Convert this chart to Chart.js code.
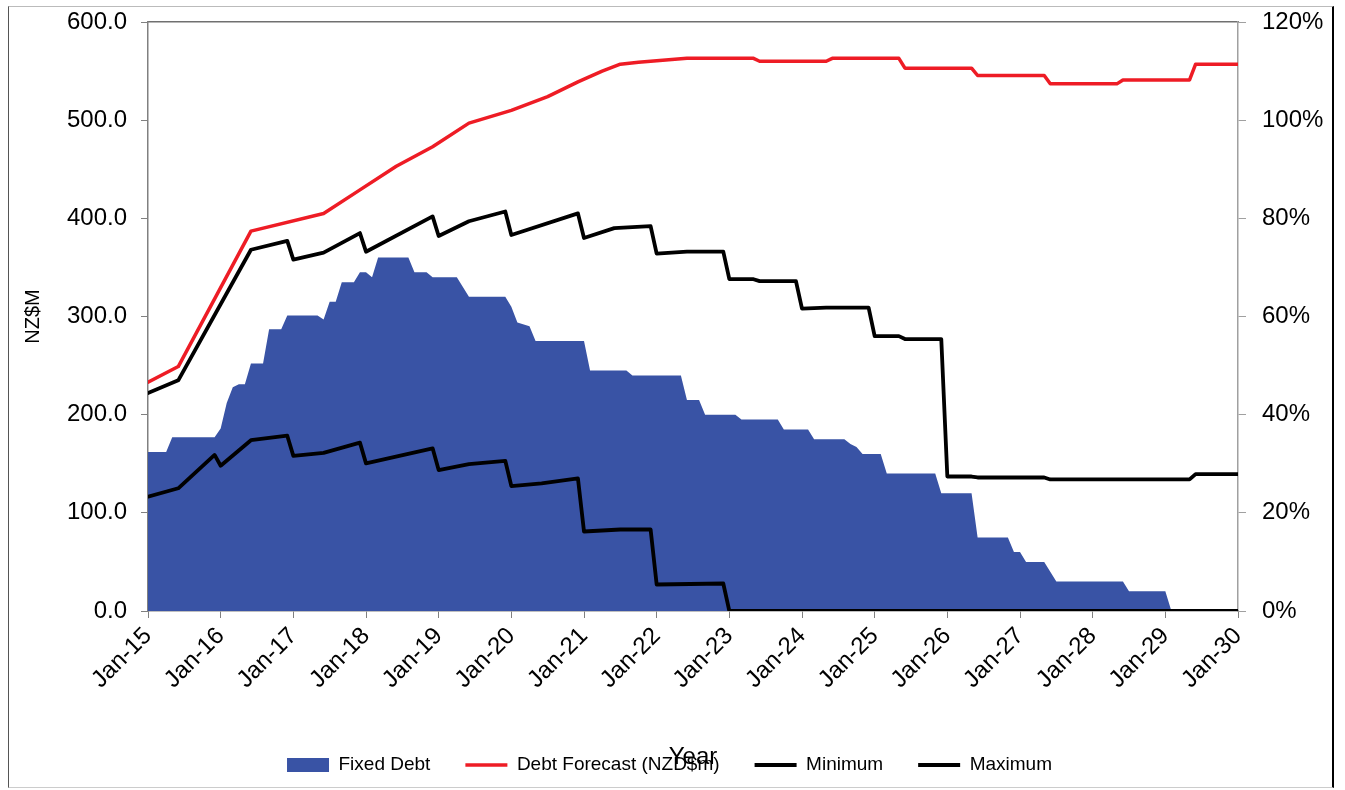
<!DOCTYPE html>
<html>
<head>
<meta charset="utf-8">
<script src="https://cdn.jsdelivr.net/npm/chart.js@4.4.0/dist/chart.umd.min.js"></script>
<style>
html,body{margin:0;padding:0;background:#fff;}
#wrap{position:relative;width:1345px;height:790px;}
#frame{position:absolute;left:8px;top:6px;width:1326px;height:782px;box-sizing:border-box;
border-left:1px solid #555;border-right:2px solid #000;border-top:1px solid #bbb;border-bottom:1px solid #ccc;pointer-events:none;}
</style>
</head>
<body>
<div id="wrap"><canvas id="c" width="1345" height="790"></canvas><div id="frame"></div></div>
<script>
// ---- data (x = months since Jan-15) ----
const xTickLabels = ['Jan-15','Jan-16','Jan-17','Jan-18','Jan-19','Jan-20','Jan-21','Jan-22','Jan-23','Jan-24','Jan-25','Jan-26','Jan-27','Jan-28','Jan-29','Jan-30'];
const seriesNames = ['Fixed Debt','Debt Forecast (NZD$m)','Minimum','Maximum'];

const fixedDebtMonths = [0,3,4,11,12,13,14,15,16,17,19,20,22,23,28,29,30,31,32,34,35,36,37,38,43,44,46,47,51,53,59,60,61,63,64,72,73,79,80,88,89,91,92,97,98,104,105,109,110,115,116,117,118,121,122,130,131,136,137,142,143,144,145,148,150,161,162,168,169,180];
const fixedDebtValues = [162,162,177,177,186,212,228,231,231,252,252,287,287,301,301,297,315,315,335,335,345,345,340,360,360,345,345,340,340,320,320,310,294,290,275,275,245,245,240,240,215,215,200,200,195,195,185,185,175,175,170,167,160,160,140,140,120,120,75,75,60,60,50,50,30,30,20,20,0,0];

const forecastMonths = [0,5,17,29,35,41,47,53,60,66,71,75,78,81,89,100,101,112,113,124,125,136,137,148,149,160,161,172,173,180];
const forecastValues = [233,249,387,405,429,453,473,497,510,524,539,550,557,559,563,563,560,560,563,563,553,553,545.5,545.5,537,537,541,541,557,557];

const minimumMonths = [0,5,11,12,17,23,24,29,35,36,47,48,53,59,60,65,71,72,78,83,84,95,96,180];
const minimumValues = [116.5,125,159,148,174,178.6,158,161,171.5,150.4,165.7,143.6,149.7,153,127.3,130,135,81,83,83,27,28,0,0];

const maximumMonths = [0,5,17,23,24,29,35,36,47,48,53,59,60,71,72,77,83,84,89,95,96,100,101,107,108,112,119,120,124,125,131,132,136,137,148,149,172,173,180];
const maximumValues = [222,235,368,377,358,365,385,366,402,382,397,407,383,405,380,390,392,364,366,366,338,338,336,336,308,309,309,280,280,277,277,137,137,136,136,134,134,139.5,139.5];

const pts = (xs, ys) => xs.map((x, i) => ({x: x, y: ys[i]}));

Chart.defaults.font.family = "'Liberation Sans', Arial, sans-serif";
Chart.defaults.color = '#000';

const BLUE = '#3953a5', RED = '#ee1c25', BLACK = '#000000';
const legendStyles = [
  {pointStyle: 'rect', fillStyle: BLUE, strokeStyle: BLUE, lineWidth: 0},
  {pointStyle: 'line', fillStyle: RED, strokeStyle: RED, lineWidth: 3.5},
  {pointStyle: 'line', fillStyle: BLACK, strokeStyle: BLACK, lineWidth: 4},
  {pointStyle: 'line', fillStyle: BLACK, strokeStyle: BLACK, lineWidth: 4}
];

const lineCommon = {pointRadius: 0, tension: 0, borderJoinStyle: 'round', borderCapStyle: 'round', fill: false, yAxisID: 'y', xAxisID: 'x'};

new Chart(document.getElementById('c'), {
  type: 'line',
  data: {
    datasets: [
      {label: seriesNames[0], data: pts(fixedDebtMonths, fixedDebtValues), backgroundColor: BLUE, borderColor: BLUE, borderWidth: 0, fill: 'origin', pointRadius: 0, tension: 0, order: 10, yAxisID: 'y', xAxisID: 'x'},
      Object.assign({label: seriesNames[1], data: pts(forecastMonths, forecastValues), borderColor: RED, borderWidth: 3.5, order: 1}, lineCommon),
      Object.assign({label: seriesNames[2], data: pts(minimumMonths, minimumValues), borderColor: BLACK, borderWidth: 3.8, order: 2}, lineCommon),
      Object.assign({label: seriesNames[3], data: pts(maximumMonths, maximumValues), borderColor: BLACK, borderWidth: 3.8, order: 3}, lineCommon)
    ]
  },
  options: {
    responsive: false,
    animation: false,
    layout: {padding: {left: 10, right: 16, top: 22, bottom: 5.5}},
    plugins: {
      tooltip: {enabled: false},
      legend: {
        position: 'bottom',
        labels: {
          usePointStyle: true,
          pointStyleWidth: 42,
          boxHeight: 14,
          padding: 35,
          font: {size: 19},
          color: '#000',
          generateLabels: (chart) => chart.data.datasets.map((ds, i) => Object.assign({text: ds.label, datasetIndex: i, hidden: false}, legendStyles[i]))
        }
      }
    },
    scales: {
      x: {
        type: 'linear', position: 'bottom', min: 0, max: 180,
        ticks: {stepSize: 12, autoSkip: false, maxRotation: 45, minRotation: 45, padding: 4, font: {size: 24},
          callback: (v) => xTickLabels[Math.round(v / 12)]},
        grid: {drawOnChartArea: false, drawTicks: true, tickLength: 7, color: '#808080'},
        border: {display: true, color: '#808080', width: 1.5},
        title: {display: true, text: 'Year', font: {size: 24}, padding: {top: 0, bottom: -50.9}},
        afterFit: (s) => { s.height = 109.5; }
      },
      xTop: {
        type: 'linear', position: 'top', min: 0, max: 180,
        ticks: {display: false},
        grid: {drawOnChartArea: false, drawTicks: false},
        border: {display: true, color: '#707070', width: 1.5},
        afterFit: (s) => { s.height = 0; }
      },
      y: {
        type: 'linear', position: 'left', min: 0, max: 600,
        ticks: {stepSize: 100, padding: 14, font: {size: 24}, callback: (v) => v.toFixed(1)},
        grid: {drawOnChartArea: false, drawTicks: true, tickLength: 7, color: '#808080'},
        border: {display: true, color: '#808080', width: 1.5},
        title: {display: true, text: 'NZ$M', font: {size: 20}, padding: {top: 11, bottom: 0}},
        afterFit: (s) => { s.width = 138; s.paddingTop = 0; s.paddingBottom = 0; }
      },
      y1: {
        type: 'linear', position: 'right', min: 0, max: 120,
        ticks: {stepSize: 20, padding: 16, font: {size: 24}, callback: (v) => v + '%'},
        grid: {drawOnChartArea: false, drawTicks: true, tickLength: 8, color: '#a0a0a0'},
        border: {display: true, color: '#a0a0a0', width: 1.5},
        afterFit: (s) => { s.width = 91; s.paddingTop = 0; s.paddingBottom = 0; }
      }
    }
  }
});
</script>
</body>
</html>
